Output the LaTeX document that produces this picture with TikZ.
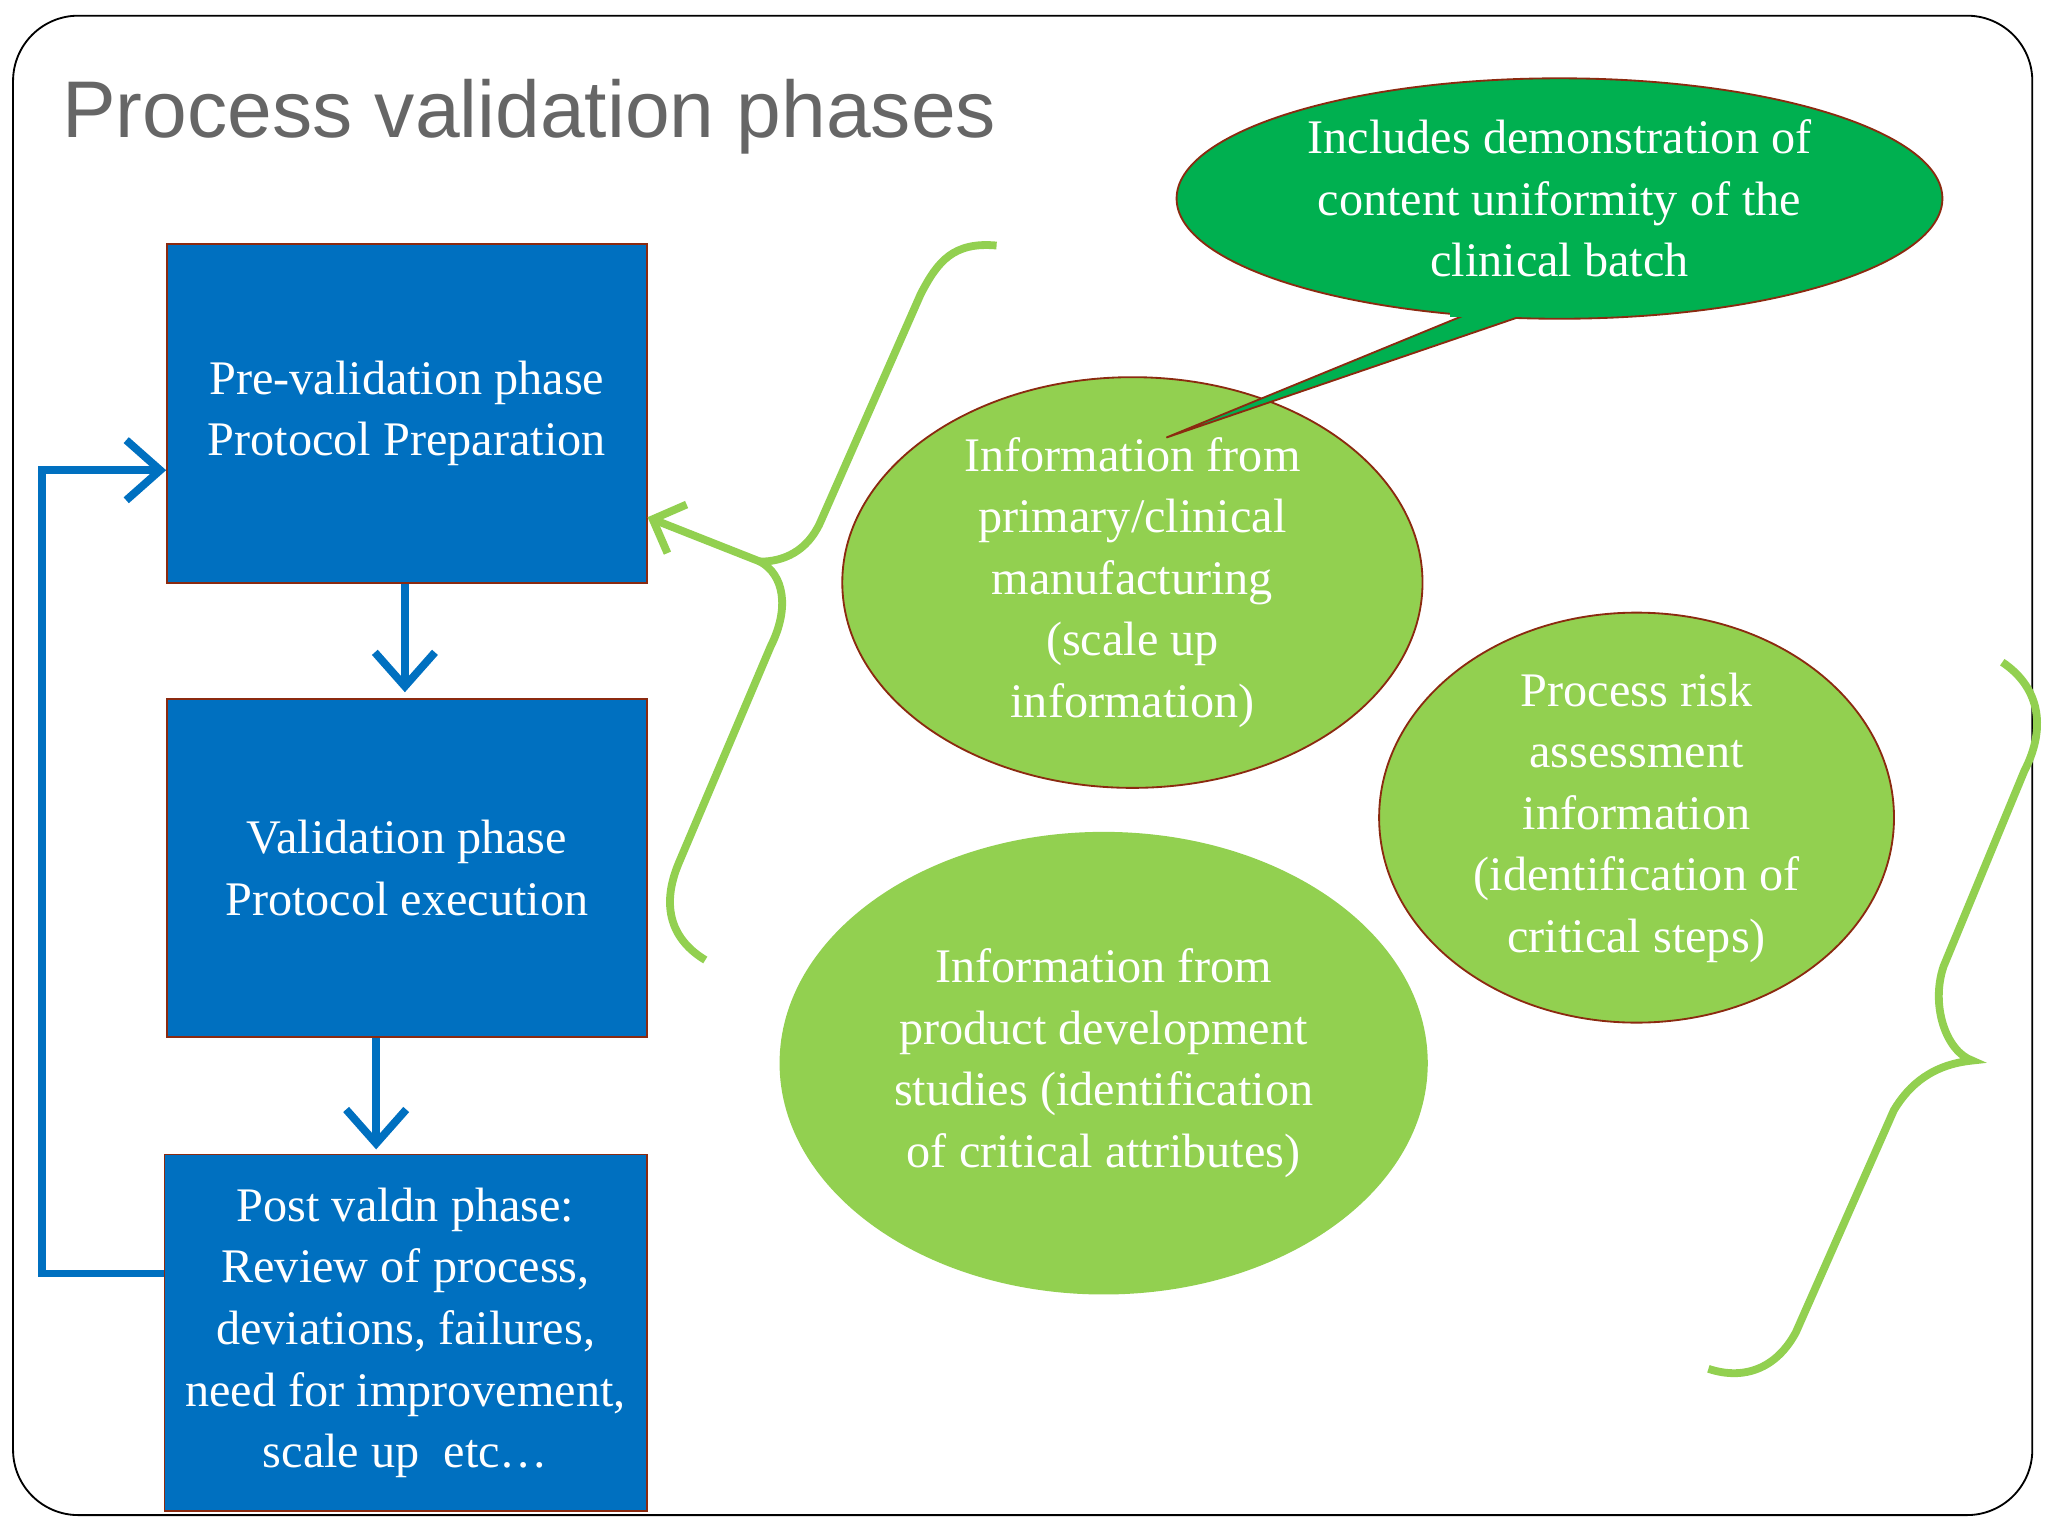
\documentclass[tikz,border=0pt]{standalone}
\usepackage{fontspec}
\setmainfont{Liberation Serif}
\newfontfamily\titlefont{Liberation Sans}
\usetikzlibrary{shapes.geometric,arrows.meta}
\definecolor{boxblue}{HTML}{0070C0}
\definecolor{leaf}{HTML}{92D050}
\definecolor{deepgreen}{HTML}{00B050}
\definecolor{rim}{HTML}{8B2A10}
\tikzset{
  phase/.style={draw=rim, fill=boxblue, text=white, minimum width=3.67cm, align=center, inner sep=0, font=\fontsize{10.5}{13.4}\selectfont},
  info/.style={ellipse, fill=leaf, text=white, align=center, inner sep=0, font=\fontsize{10.5}{13.4}\selectfont},
  flow/.style={draw=boxblue, line width=0.6mm, -{Straight Barb[length=2.6mm,width=4.6mm]}},
  brace/.style={draw=leaf, line width=1.7pt}
}
\begin{document}
\begin{tikzpicture}[x=0.01cm,y=-0.01cm]
\useasboundingbox (0,0) rectangle (1568,1176);
\draw[rounded corners=0.5cm] (10,12) rectangle (1556,1160);
\node[anchor=base west, text=gray!80!black, font=\titlefont\fontsize{17.5}{18}\selectfont, inner sep=0] (title) at (47,105) {Process validation phases};

% phases
\node[phase, minimum height=2.59cm] (pre) at (311.5,316.5) {Pre-validation phase\\Protocol Preparation};
\node[phase, minimum height=2.59cm] (val) at (311.5,664.5) {Validation phase\\Protocol execution};
\node[phase, minimum width=3.69cm, minimum height=2.73cm] (post) at (310.5,1020.5) {Post valdn phase:\\Review of process,\\deviations, failures,\\need for improvement,\\scale up\ \ etc\ldots};

\coordinate (a1) at (310,530);
\coordinate (a2) at (288,880);
\draw[flow] (pre.south -| a1) -- (a1);
\draw[flow] (val.south -| a2) -- (a2);
\draw[flow] (post.west |- 0,975) -- (32,975) -- (32,360) -- (pre.west |- 0,360);

% information
\node[ellipse, draw=rim, fill=deepgreen, text=white, align=center, minimum width=5.86cm, minimum height=1.84cm, inner sep=0, font=\fontsize{10.5}{13.4}\selectfont] (demo) at (1194,152) {Includes demonstration of\\content uniformity of the\\clinical batch};
\node[info, draw=rim, minimum width=4.44cm, minimum height=2.84cm] (primary) at (867,446) {Information from\\primary/clinical\\manufacturing\\(scale up\\information)};
\node[info, draw=rim, minimum width=3.94cm, minimum height=2.84cm] (risk) at (1253,626) {Process risk\\assessment\\information\\(identification of\\critical steps)};
\node[info, minimum width=4.96cm, minimum height=3.54cm] (dev) at (845,814) {Information from\\product development\\studies (identification\\of critical attributes)};
\coordinate (tail) at (893,335);
\fill[deepgreen, draw=rim] (1122,241) -- (tail) -- (1168,241) -- cycle;
\fill[deepgreen] (1110,236) rectangle (1180,243);

% braces
\coordinate (tip1) at (582,430);
\draw[brace] (763,188) .. controls (730,185) and (718,200) .. (705,225) -- (628,400)
  .. controls (618,422) and (600,430) .. (tip1)
  .. controls (600,440) and (605,465) .. (590,495) -- (520,660)
  .. controls (505,695) and (515,720) .. (540,735);
\draw[brace, -{Straight Barb[length=2mm,width=4mm]}] (tip1) -- (pre.east |- 0,396);
\draw[brace] (1533,507) .. controls (1560,525) and (1568,555) .. (1550,590) -- (1488,740)
  .. controls (1478,770) and (1490,805) .. (1510,812)
  .. controls (1480,815) and (1462,830) .. (1450,850) -- (1375,1020)
  .. controls (1360,1048) and (1335,1057) .. (1308,1048);
\end{tikzpicture}
\end{document}
